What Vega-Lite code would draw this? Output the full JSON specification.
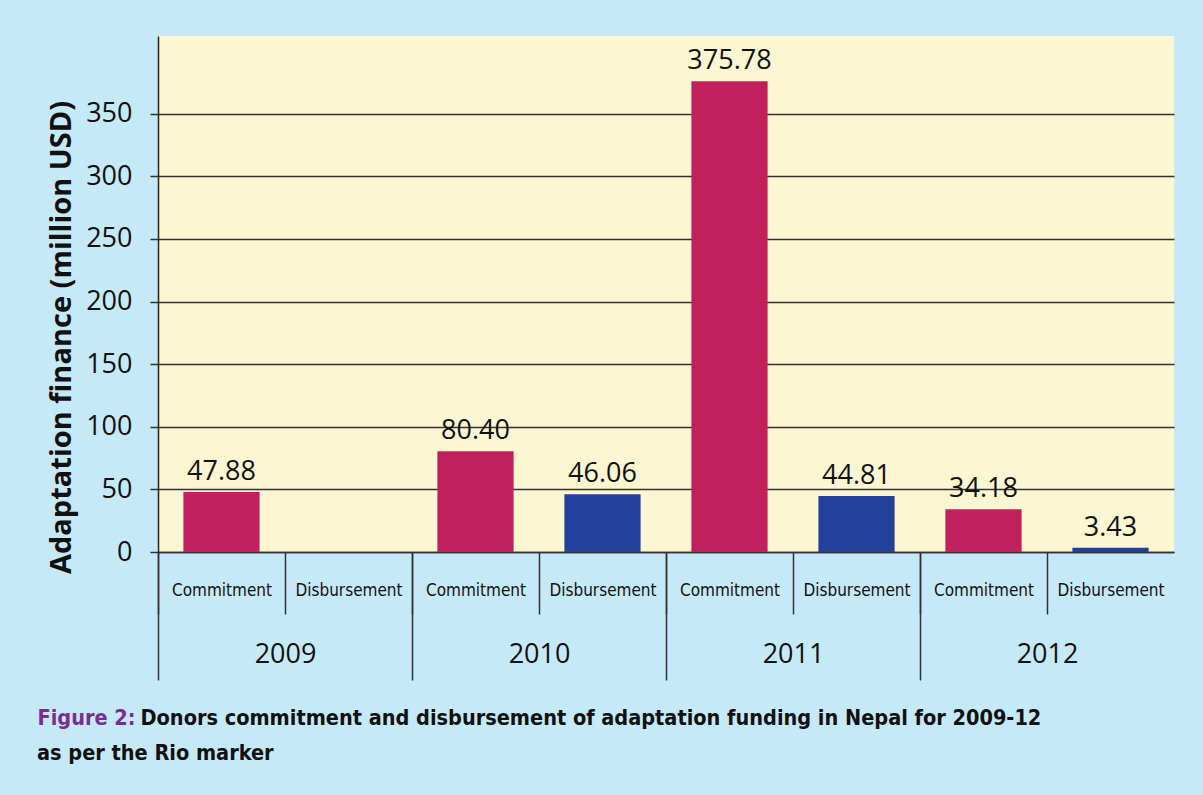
{
  "$schema": "https://vega.github.io/schema/vega-lite/v6.json",
  "width": 1016,
  "height": 516,
  "autosize": {"type": "none"},
  "padding": {"left": 158, "top": 36, "right": 29, "bottom": 243},
  "background": "#c6e9f8",
  "config": {
    "view": {"fill": "#fdf6d2", "stroke": null},
    "font": "Open Sans"
  },
  "title": {
    "text": "as per the Rio marker",
    "orient": "bottom",
    "anchor": "start",
    "frame": "group",
    "dx": -121,
    "offset": 14,
    "font": "DejaVu Sans Condensed",
    "fontWeight": "bold",
    "fontSize": 21.5,
    "color": "#111111"
  },
  "data": {
    "values": [
      {"year": "2009", "type": "Commitment", "key": "2009|Commitment", "value": 47.88},
      {"year": "2009", "type": "Disbursement", "key": "2009|Disbursement", "value": null},
      {"year": "2010", "type": "Commitment", "key": "2010|Commitment", "value": 80.40},
      {"year": "2010", "type": "Disbursement", "key": "2010|Disbursement", "value": 46.06},
      {"year": "2011", "type": "Commitment", "key": "2011|Commitment", "value": 375.78},
      {"year": "2011", "type": "Disbursement", "key": "2011|Disbursement", "value": 44.81},
      {"year": "2012", "type": "Commitment", "key": "2012|Commitment", "value": 34.18},
      {"year": "2012", "type": "Disbursement", "key": "2012|Disbursement", "value": 3.43}
    ]
  },
  "layer": [
    {
      "encoding": {
        "x": {
          "field": "key",
          "type": "nominal",
          "scale": {
            "type": "band",
            "domain": ["2009|Commitment", "2009|Disbursement", "2010|Commitment", "2010|Disbursement", "2011|Commitment", "2011|Disbursement", "2012|Commitment", "2012|Disbursement"],
            "paddingInner": 0,
            "paddingOuter": 0
          },
          "axis": {
            "orient": "bottom",
            "labelExpr": "split(datum.label, '|')[1]",
            "labelAngle": 0,
            "tickBand": "extent",
            "tickSize": 62,
            "tickColor": "#333333",
            "tickWidth": 1.5,
            "tickOpacity": {"condition": {"test": "!datum.extra && datum.value === '2012|Disbursement'", "value": 0}, "value": 1},
            "domainColor": "#333333",
            "domainWidth": 1.5,
            "labelPadding": -32,
            "labelFont": "DejaVu Sans Condensed",
            "labelFontSize": 17,
            "labelColor": "#111111",
            "title": "Donors commitment and disbursement of adaptation funding in Nepal for 2009-12",
            "titleX": -18,
            "titleY": 172,
            "titleAlign": "left",
            "titleBaseline": "alphabetic",
            "titleFont": "DejaVu Sans Condensed",
            "titleFontWeight": "bold",
            "titleFontSize": 21.5,
            "titleColor": "#111111"
          }
        },
        "y": {
          "field": "value",
          "type": "quantitative",
          "scale": {"domain": [0, 412], "nice": false},
          "axis": {
            "values": [0, 50, 100, 150, 200, 250, 300, 350],
            "grid": true,
            "gridColor": "#333333",
            "gridWidth": 1.5,
            "tickSize": 8,
            "tickColor": "#333333",
            "tickWidth": 1.5,
            "domainColor": "#222222",
            "domainWidth": 1.5,
            "labelFontSize": 27,
            "labelPadding": 18,
            "labelColor": "#111111",
            "title": "Adaptation finance (million USD)",
            "titleFontSize": 29,
            "titleFontWeight": "bold",
            "titleColor": "#111111",
            "titleX": -97,
            "titleY": 301,
            "titleBaseline": "middle",
            "titleAngle": -90
          }
        }
      },
      "layer": [
        {
          "mark": {"type": "bar", "width": {"band": 0.6}},
          "encoding": {
            "color": {
              "field": "type",
              "type": "nominal",
              "scale": {"domain": ["Commitment", "Disbursement"], "range": ["#c0215c", "#22409a"]},
              "legend": null
            }
          }
        },
        {
          "mark": {"type": "text", "baseline": "alphabetic", "dy": -12, "fontSize": 27, "color": "#111111"},
          "encoding": {
            "text": {"field": "value", "type": "quantitative", "format": ".2f"}
          }
        }
      ]
    },
    {
      "mark": {"type": "point", "opacity": 0},
      "encoding": {
        "x": {
          "field": "year",
          "type": "nominal",
          "scale": {"type": "band", "domain": ["2009", "2010", "2011", "2012"], "paddingInner": 0, "paddingOuter": 0},
          "axis": {
            "orient": "bottom",
            "labelAngle": 0,
            "domain": false,
            "tickBand": "extent",
            "tickSize": 128,
            "tickColor": "#333333",
            "tickWidth": 1.5,
            "tickOpacity": {"condition": {"test": "!datum.extra && datum.value === '2012'", "value": 0}, "value": 1},
            "labelPadding": -39,
            "labelFontSize": 27,
            "labelColor": "#111111",
            "title": "Figure 2:",
            "titleX": -121,
            "titleY": 172,
            "titleAlign": "left",
            "titleBaseline": "alphabetic",
            "titleFont": "DejaVu Sans Condensed",
            "titleFontWeight": "bold",
            "titleFontSize": 21.5,
            "titleColor": "#7a2e8e"
          }
        }
      }
    }
  ],
  "resolve": {"scale": {"x": "independent"}, "axis": {"x": "independent"}}
}
